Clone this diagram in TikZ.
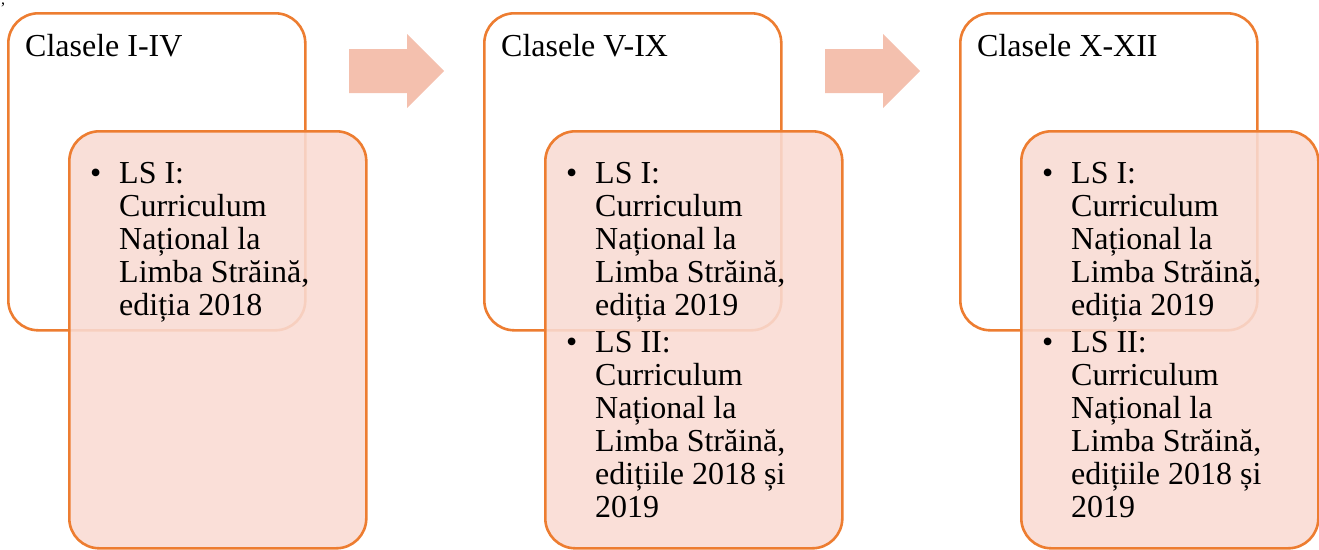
\documentclass[tikz,border=0pt]{standalone}
\usepackage{fontspec}
\setmainfont{Liberation Serif}
\definecolor{edge}{HTML}{ED7D31}
\definecolor{innerfill}{HTML}{F9DBD3}
\definecolor{arrowfill}{HTML}{F4C0AE}
\begin{document}
\begin{tikzpicture}[x=1pt,y=-1pt,
  outerbox/.style={draw=edge,line width=2.6pt,rounded corners=30pt,fill=white,
    minimum width=297pt,minimum height=317pt,anchor=north west,inner sep=0pt},
  innerbox/.style={draw=edge,line width=2.6pt,rounded corners=30pt,fill=innerfill,fill opacity=0.88,
    minimum width=297pt,minimum height=417pt,anchor=north west,inner sep=0pt},
  txt/.style={anchor=base west,inner sep=0pt,font=\fontsize{32}{33}\selectfont}]
\useasboundingbox (0,0) rectangle (1319,549);
\node[anchor=base west,inner sep=0pt,font=\fontsize{16}{16}\selectfont] (comma) at (1,4) {,};
% columns
\foreach \i/\x/\title in {1/7/Clasele I-IV,2/483/Clasele V-IX,3/959/Clasele X-XII}{
  \node[outerbox] (outer\i) at (\x,12) {};
  \node[txt] (title\i) at (\x+18,56) {\title};
  \node[innerbox] (inner\i) at (\x+61,130) {};
}
% column 1 text
\node[txt] (b1a) at (90,183) {•};
\foreach \k/\t in {0/LS I:,1/Curriculum,2/Național la,3/{Limba Străină,},4/ediția 2018}{
  \node[txt] (c1l\k) at (119,183+33*\k) {\t};
}
% columns 2 and 3 text
\foreach \i/\x in {2/566,3/1042}{
  \node[txt] (b\i a) at (\x,183) {•};
  \node[txt] (b\i b) at (\x,352) {•};
  \foreach \k/\t in {0/LS I:,1/Curriculum,2/Național la,3/{Limba Străină,},4/ediția 2019}{
    \node[txt] (c\i a\k) at (\x+29,183+33*\k) {\t};
  }
  \foreach \k/\t in {0/LS II:,1/Curriculum,2/Național la,3/{Limba Străină,},4/edițiile 2018 și,5/2019}{
    \node[txt] (c\i b\k) at (\x+29,352+33*\k) {\t};
  }
}
% arrows
\foreach \s in {0,476}{
  \fill[arrowfill] (349+\s,49) -- (407+\s,49) -- (407+\s,34) -- (444+\s,71)
     -- (407+\s,108) -- (407+\s,93) -- (349+\s,93) -- cycle;
}
\end{tikzpicture}
\end{document}
